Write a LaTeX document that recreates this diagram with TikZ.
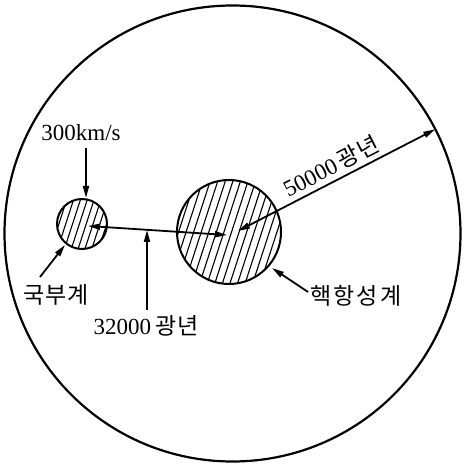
\documentclass[tikz,border=0pt]{standalone}
\usepackage{fontspec}
\setmainfont{Liberation Serif}
\newfontfamily\kr{Noto Sans CJK KR}
\usetikzlibrary{arrows.meta,calc}
\tikzset{
  ring/.style={draw,line width=2pt},
  hatchline/.style={line width=1.1pt},
  arr/.style={line width=1.8pt,-{Triangle[length=12pt,width=6pt]}},
  darr/.style={line width=1.8pt,{Triangle[length=12pt,width=6pt]}-{Triangle[length=12pt,width=6pt]}},
  lbl/.style={inner sep=0pt,font=\fontsize{23}{26}\selectfont}
}
\begin{document}
\begin{tikzpicture}[x=1pt,y=1pt]
\useasboundingbox (0,0) rectangle (465,466);
\coordinate (C) at (232.5,232.5);
\coordinate (S) at (82,242);
\coordinate (L) at (229,234);
% galaxy outline
\draw[line width=2.2pt] (C) circle (228);
% small (local) system
\begin{scope}
  \clip (S) circle (25);
  \begin{scope}[shift={(S)},rotate=72]
    \foreach \k in {-30,-23.5,...,30} \draw[hatchline] (-40,\k) -- (40,\k);
  \end{scope}
\end{scope}
\draw[ring] (S) circle (25);
% large (nuclear) system
\begin{scope}
  \clip (L) circle (52);
  \begin{scope}[shift={(L)},rotate=72]
    \foreach \k in {-60,-52.8,...,60} \draw[hatchline] (-70,\k) -- (70,\k);
  \end{scope}
\end{scope}
\draw[ring] (L) circle (52);
% connecting arrow
\coordinate (sa) at (88,240);
\coordinate (la) at (227,231);
\draw[darr] (sa) -- (la);
% 50000 arrow
\coordinate (ra) at (238,235);
\coordinate (rb) at ($(C)+(27.2:228)$);
\draw[darr] (ra) -- (rb);
\node[lbl,rotate=27] (r50) at (331,300) {50000\,{\kr 광\hspace{1pt}년}};
% 300km/s
\node[lbl] (v) at (81,333) {300km/s};
\coordinate (vt) at (86,318);
\coordinate (vh) at (86,268);
\draw[arr] (vt) -- (vh);
% 32000
\node[lbl] (d) at (146,140) {32000\,{\kr 광\hspace{1pt}년}};
\coordinate (dt) at (147,156);
\coordinate (dh) at (147,236);
\draw[arr] (dt) -- (dh);
% local label
\node[lbl] (loc) at (56,171) {\kr 국\hspace{1pt}부\hspace{1pt}계};
\coordinate (lt) at (40,189);
\coordinate (lh) at (65,221);
\draw[arr] (lt) -- (lh);
% nuclear label
\node[lbl] (nuc) at (356,170) {\kr 핵\hspace{2pt}항\hspace{2pt}성\hspace{2pt}계};
\coordinate (nt) at (308,174);
\coordinate (nh) at (272,198);
\draw[arr] (nt) -- (nh);
\end{tikzpicture}
\end{document}
